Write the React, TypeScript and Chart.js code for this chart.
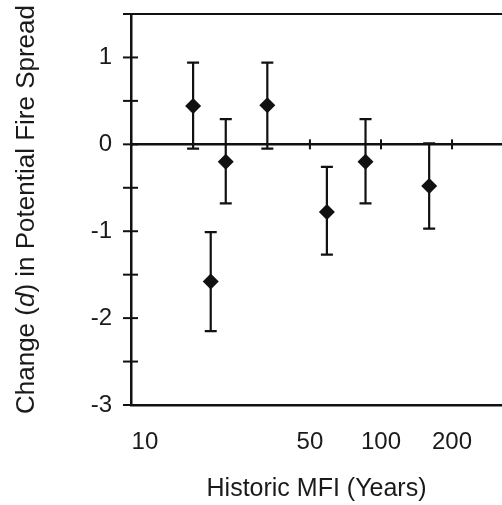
import React, { useEffect, useRef } from "react";
import { Chart, registerables } from "chart.js";

Chart.register(...registerables);

// Historic mean fire interval (years) per group
const mfiYears = [16, 19, 22, 33, 59, 86, 160];
// Change (d) in potential fire spread
const effectD = [0.44, -1.58, -0.2, 0.45, -0.78, -0.2, -0.48];
// Error bar limits
const errLow = [-0.05, -2.15, -0.68, -0.05, -1.27, -0.68, -0.97];
const errHigh = [0.94, -1.01, 0.29, 0.94, -0.26, 0.29, 0.01];
// Axis tick labels
const xTickValues = [10, 50, 100, 200];
const xBreakTicks = [50, 100, 200];
const yMin = -3;
const yMax = 1.5;
const yStep = 0.5;

const FONT = "'Liberation Sans', Arial, Helvetica, sans-serif";
const INK = "#111";
const TEXT = "#1a1a1a";

const decorPlugin = {
  id: "decor",
  beforeDatasetsDraw(chart: any) {
    const { ctx, chartArea, scales } = chart;
    const xs = scales.x;
    const ys = scales.y;
    ctx.save();
    ctx.strokeStyle = INK;
    ctx.lineCap = "butt";
    // top frame line
    ctx.lineWidth = 2;
    ctx.beginPath();
    ctx.moveTo(chartArea.left - 6, chartArea.top);
    ctx.lineTo(chartArea.right, chartArea.top);
    ctx.stroke();
    // zero line
    const y0 = ys.getPixelForValue(0);
    ctx.lineWidth = 2.5;
    ctx.beginPath();
    ctx.moveTo(chartArea.left, y0);
    ctx.lineTo(chartArea.right, y0);
    ctx.stroke();
    // break ticks on zero line
    ctx.lineWidth = 2;
    xBreakTicks.forEach((v) => {
      const px = xs.getPixelForValue(v);
      ctx.beginPath();
      ctx.moveTo(px, y0 - 5);
      ctx.lineTo(px, y0 + 5);
      ctx.stroke();
    });
    // y tick marks crossing the axis
    ctx.lineWidth = 2;
    for (let v = yMin; v <= yMax + 1e-9; v += yStep) {
      const py = ys.getPixelForValue(v);
      ctx.beginPath();
      ctx.moveTo(chartArea.left - 8, py);
      ctx.lineTo(chartArea.left + 7, py);
      ctx.stroke();
    }
    // error bars
    ctx.lineWidth = 2.2;
    mfiYears.forEach((m, i) => {
      const px = xs.getPixelForValue(m);
      const pl = ys.getPixelForValue(errLow[i]);
      const ph = ys.getPixelForValue(errHigh[i]);
      ctx.beginPath();
      ctx.moveTo(px, pl);
      ctx.lineTo(px, ph);
      ctx.moveTo(px - 6, pl);
      ctx.lineTo(px + 6, pl);
      ctx.moveTo(px - 6, ph);
      ctx.lineTo(px + 6, ph);
      ctx.stroke();
    });
    ctx.restore();
  },
  afterDraw(chart: any) {
    const { ctx, chartArea } = chart;
    ctx.save();
    ctx.fillStyle = TEXT;
    const normal = `26px ${FONT}`;
    const italic = `italic 26px ${FONT}`;
    const parts: [string, string][] = [
      ["Change (", normal],
      ["d", italic],
      [") in Potential Fire Spread", normal],
    ];
    let total = 0;
    const widths = parts.map(([t, f]) => {
      ctx.font = f;
      const w = ctx.measureText(t).width;
      total += w;
      return w;
    });
    const cy = (chartArea.top + chartArea.bottom) / 2;
    ctx.translate(34, cy);
    ctx.rotate(-Math.PI / 2);
    ctx.textBaseline = "alphabetic";
    ctx.textAlign = "left";
    let x = -total / 2;
    parts.forEach(([t, f], i) => {
      ctx.font = f;
      ctx.fillText(t, x, 0);
      x += widths[i];
    });
    ctx.restore();
  },
};

export default function App() {
  const ref = useRef<HTMLCanvasElement | null>(null);
  useEffect(() => {
    if (!ref.current) return;
    const chart = new Chart(ref.current, {
      type: "scatter",
      data: {
        datasets: [
          {
            data: mfiYears.map((m, i) => ({ x: m, y: effectD[i] })),
            pointStyle: "rectRot",
            pointRadius: 8,
            pointHoverRadius: 8,
            backgroundColor: INK,
            borderColor: INK,
            borderWidth: 0,
          },
        ],
      },
      options: {
        animation: false,
        responsive: true,
        maintainAspectRatio: false,
        layout: { autoPadding: false, padding: { top: 14, right: 0, left: 0, bottom: 0 } },
        plugins: { legend: { display: false }, tooltip: { enabled: false } },
        scales: {
          x: {
            type: "logarithmic",
            min: 8.73,
            max: 325.6,
            afterBuildTicks: (scale: any) => {
              scale.ticks = xTickValues.map((v) => ({ value: v }));
            },
            afterFit: (scale: any) => {
              scale.height = 100;
              scale.paddingLeft = 0;
              scale.paddingRight = 0;
            },
            grid: { display: false, drawTicks: false },
            border: { display: true, color: INK, width: 2.5 },
            ticks: {
              autoSkip: false,
              maxRotation: 0,
              padding: 23,
              color: TEXT,
              font: { family: FONT, size: 24 },
              callback: (v: any) => String(v),
            },
            title: {
              display: true,
              text: "Historic MFI (Years)",
              color: TEXT,
              font: { family: FONT, size: 25 },
              padding: { top: 0, bottom: 1 },
            },
          },
          y: {
            min: yMin,
            max: yMax,
            afterFit: (scale: any) => {
              scale.width = 131;
              scale.paddingTop = 0;
              scale.paddingBottom = 0;
            },
            grid: {
              display: true,
              drawOnChartArea: false,
              drawTicks: true,
              tickLength: 8,
              color: "rgba(0,0,0,0)",
            },
            border: { display: true, color: INK, width: 2.5 },
            ticks: {
              stepSize: yStep,
              padding: 11,
              color: TEXT,
              font: { family: FONT, size: 24 },
              callback: (v: any) => (Number.isInteger(Number(v)) ? String(v) : ""),
            },
          },
        },
      },
      plugins: [decorPlugin],
    });
    return () => chart.destroy();
  }, []);
  return (
    <div style={{ position: "fixed", left: 0, top: 0, width: 502, height: 505, background: "#fff" }}>
      <canvas ref={ref} />
    </div>
  );
}
